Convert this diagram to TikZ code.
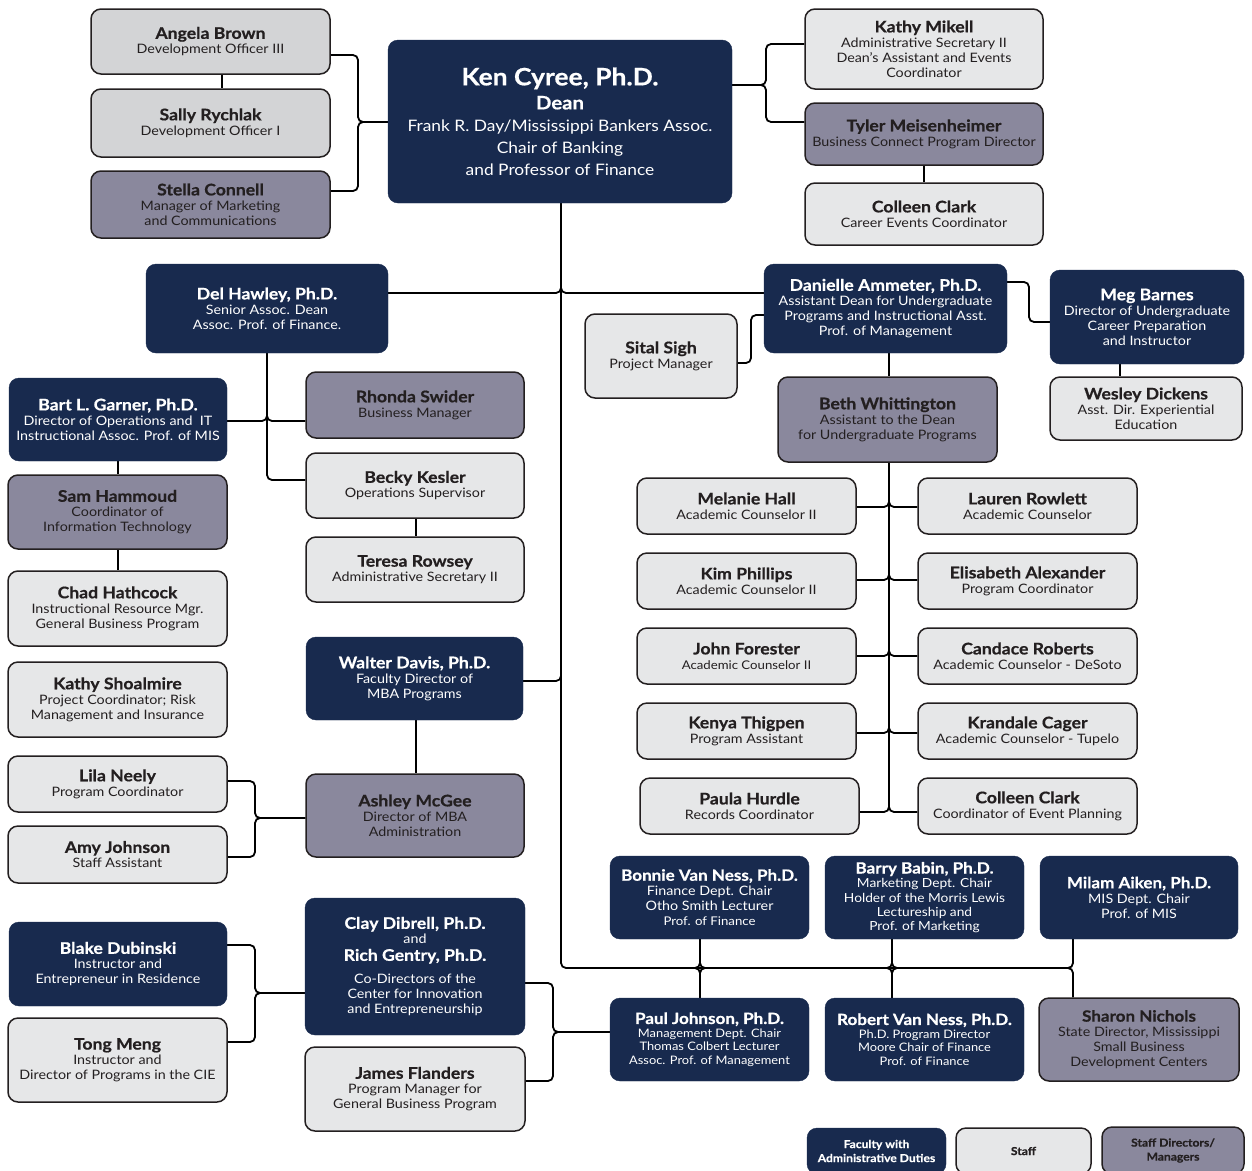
\documentclass[tikz,border=0pt]{standalone}
\usepackage{fontspec}
\setmainfont{Lato}[FakeStretch=1.1, BoldFeatures={FakeBold=0.6}]
\usetikzlibrary{backgrounds}
\definecolor{navy}{HTML}{182A4E}
\definecolor{stfgray}{HTML}{E6E7E8}
\definecolor{devgray}{HTML}{D3D4D6}
\definecolor{mgrgray}{HTML}{8A889D}
\definecolor{ink}{HTML}{231F20}
\newcommand\nm[1]{{\fontsize{16}{18}\selectfont\bfseries #1}}
\newcommand\nms[1]{{\fontsize{15.5}{17}\selectfont\bfseries #1}}
\newcommand\bx[7]{\node[#1, minimum width={#5-#3}, minimum height={#6-#4}] (#2) at ({(#3+#5)/2},{(#4+#6)/2}) {#7};}
\tikzset{
  card/.style={rounded corners=10pt, inner sep=0pt, align=center, font=\fontsize{13}{15}\selectfont},
  fac/.style={card, fill=navy, draw=navy, text=white},
  stf/.style={card, fill=stfgray, draw=ink, line width=1.5pt, text=ink},
  dev/.style={card, fill=devgray, draw=ink, line width=1.5pt, text=ink},
  mgr/.style={card, fill=mgrgray, draw=ink, line width=1.5pt, text=ink},
  conn/.style={draw=black, line width=1.8pt, rounded corners=5pt},
}
\begin{document}
\begin{tikzpicture}[x=1pt,y=-1pt]
\useasboundingbox (0,0) rectangle (1252,1170);
% top left
\bx{dev}{angela}{91}{9}{330}{74}{\nm{Angela Brown}\\Development Officer III}
\bx{dev}{sally}{91}{89}{330}{157}{\nm{Sally Rychlak}\\Development Officer I}
\bx{mgr}{stella}{91}{171}{330}{238}{\nm{Stella Connell}\\Manager of Marketing\\and Communications}
% dean
\bx{fac,font=\fontsize{15.8}{22}\selectfont}{ken}{388}{40}{732}{203}{{\fontsize{24}{26}\selectfont\bfseries Ken Cyree, Ph.D.}\\[2pt]{\fontsize{18.5}{20}\selectfont\bfseries Dean}\\[0pt]Frank R. Day/Mississippi Bankers Assoc.\\Chair of Banking\\and Professor of Finance}
% top right
\bx{stf}{kathy}{805}{9}{1043}{89}{\nm{Kathy Mikell}\\Administrative Secretary II\\Dean’s Assistant and Events\\Coordinator}
\bx{mgr}{tyler}{805}{103}{1043}{165}{\nm{Tyler Meisenheimer}\\Business Connect Program Director}
\bx{stf}{colleenA}{805}{183}{1043}{245}{\nm{Colleen Clark}\\Career Events Coordinator}
% second level
\bx{fac}{delh}{146}{264}{388}{353}{\nm{Del Hawley, Ph.D.}\\Senior Assoc. Dean\\Assoc. Prof. of Finance.}
\bx{fac}{dan}{764}{264}{1007}{353}{\nm{Danielle Ammeter, Ph.D.}\\Assistant Dean for Undergraduate\\Programs and Instructional Asst.\\Prof. of Management}
\bx{stf}{sital}{585}{314}{737}{398}{\nm{Sital Sigh}\\Project Manager}
\bx{fac}{meg}{1050}{270}{1244}{364}{\nm{Meg Barnes}\\Director of Undergraduate\\Career Preparation\\and Instructor}
\bx{stf}{wesley}{1050}{377}{1242}{440}{\nm{Wesley Dickens}\\Asst. Dir. Experiential\\Education}
\bx{mgr}{beth}{778}{377}{997}{462}{\nm{Beth Whittington}\\Assistant to the Dean\\for Undergraduate Programs}
% Del Hawley branch
\bx{fac}{bart}{9}{378}{227}{461}{\nm{Bart L. Garner, Ph.D.}\\Director of Operations and\ \ IT\\Instructional Assoc. Prof. of MIS}
\bx{mgr}{sam}{8}{475}{227}{549}{\nm{Sam Hammoud}\\Coordinator of\\Information Technology}
\bx{stf}{chad}{8}{571}{227}{646}{\nm{Chad Hathcock}\\Instructional Resource Mgr.\\General Business Program}
\bx{mgr}{rhonda}{306}{372}{524}{438}{\nm{Rhonda Swider}\\Business Manager}
\bx{stf}{becky}{306}{453}{524}{518}{\nm{Becky Kesler}\\Operations Supervisor}
\bx{stf}{teresa}{306}{537}{524}{602}{\nm{Teresa Rowsey}\\Administrative Secretary II}
\bx{stf}{kathys}{8}{662}{227}{737}{\nm{Kathy Shoalmire}\\Project Coordinator; Risk\\Management and Insurance}
% MBA
\bx{fac}{walter}{306}{637}{523}{720}{\nm{Walter Davis, Ph.D.}\\Faculty Director of\\MBA Programs}
\bx{stf}{lila}{8}{756}{227}{812}{\nm{Lila Neely}\\Program Coordinator}
\bx{stf}{amy}{8}{826}{227}{883}{\nm{Amy Johnson}\\Staff Assistant}
\bx{mgr}{ashley}{306}{774}{524}{857}{\nm{Ashley McGee}\\Director of MBA\\Administration}
% CIE
\bx{fac}{blake}{9}{922}{227}{1006}{\nm{Blake Dubinski}\\Instructor and\\Entrepreneur in Residence}
\bx{stf}{tong}{8}{1018}{227}{1102}{\nm{Tong Meng}\\Instructor and\\Director of Programs in the CIE}
\bx{fac}{clay}{305}{898}{525}{1035}{\nm{Clay Dibrell, Ph.D.}\\and\\[2pt]\nm{Rich Gentry, Ph.D.}\\[8pt]Co-Directors of the\\Center for Innovation\\and Entrepreneurship}
\bx{stf}{james}{305}{1047}{525}{1131}{\nm{James Flanders}\\Program Manager for\\General Business Program}
% counselors
\bx{stf}{melanie}{637}{478}{856}{534}{\nm{Melanie Hall}\\Academic Counselor II}
\bx{stf}{lauren}{918}{478}{1137}{534}{\nm{Lauren Rowlett}\\Academic Counselor}
\bx{stf}{kim}{637}{553}{856}{609}{\nm{Kim Phillips}\\Academic Counselor II}
\bx{stf}{elisabeth}{918}{553}{1137}{609}{\nm{Elisabeth Alexander}\\Program Coordinator}
\bx{stf}{john}{637}{628}{856}{684}{\nm{John Forester}\\{\fontsize{12}{14}\selectfont Academic Counselor II}}
\bx{stf}{candace}{918}{628}{1137}{684}{\nm{Candace Roberts}\\Academic Counselor - DeSoto}
\bx{stf}{kenya}{637}{703}{856}{759}{\nm{Kenya Thigpen}\\Program Assistant}
\bx{stf}{krandale}{918}{703}{1137}{759}{\nm{Krandale Cager}\\Academic Counselor - Tupelo}
\bx{stf}{paula}{640}{778}{859}{834}{\nm{Paula Hurdle}\\Records Coordinator}
\bx{stf}{colleenB}{918}{778}{1137}{834}{\nm{Colleen Clark}\\Coordinator of Event Planning}
% departments
\bx{fac}{bonnie}{610}{856}{809}{939}{\nms{Bonnie Van Ness, Ph.D.}\\Finance Dept. Chair\\Otho Smith Lecturer\\{\fontsize{12}{14}\selectfont Prof. of Finance}}
\bx{fac,font=\fontsize{12.5}{14.3}\selectfont}{barry}{825}{856}{1024}{939}{\nms{Barry Babin, Ph.D.}\\Marketing Dept. Chair\\Holder of the Morris Lewis\\Lectureship and\\Prof. of Marketing}
\bx{fac}{milam}{1040}{856}{1238}{939}{\nms{Milam Aiken, Ph.D.}\\MIS Dept. Chair\\Prof. of MIS}
\bx{fac,font=\fontsize{11.7}{13.5}\selectfont}{paul}{610}{998}{809}{1081}{\nms{Paul Johnson, Ph.D.}\\Management Dept. Chair\\Thomas Colbert Lecturer\\Assoc. Prof. of Management}
\bx{fac,font=\fontsize{11.7}{13.5}\selectfont}{robert}{825}{998}{1024}{1081}{\nms{Robert Van Ness, Ph.D.}\\Ph.D. Program Director\\Moore Chair of Finance\\Prof. of Finance}
\bx{mgr}{sharon}{1039}{998}{1239}{1081}{\nms{Sharon Nichols}\\State Director, Mississippi\\Small Business\\Development Centers}
% legend
\begin{scope}
\clip (0,0) rectangle (1252,1170);
\bx{fac,font=\fontsize{11}{14}\selectfont\bfseries}{lgfac}{807}{1128}{946}{1174}{Faculty with\\Administrative Duties}
\bx{stf,font=\fontsize{11}{14}\selectfont\bfseries}{lgstf}{956}{1128}{1091}{1174}{Staff}
\bx{mgr,font=\fontsize{11}{14}\selectfont\bfseries}{lgmgr}{1102}{1127}{1244}{1174}{Staff Directors/\\Managers}
\end{scope}
% connectors
\begin{scope}[on background layer]
% dean left
\draw[conn] (angela.east |- 0,55) -| (358,122) -- (ken.west |- 0,122);
\draw[conn] (stella.east |- 0,191) -| (358,122) -- (ken.west |- 0,122);
\draw[conn] (angela.south -| 222,0) -- (sally.north -| 222,0);
% dean right
\draw[conn] (ken.east |- 0,85) -| (766,44) -- (kathy.west |- 0,44);
\draw[conn] (ken.east |- 0,85) -| (766,122) -- (tyler.west |- 0,122);
\draw[conn] (tyler.south -| 924,0) -- (colleenA.north -| 924,0);
% trunk
\draw[conn] (ken.south -| 561,0) |- (1060,968);
\draw[conn] (delh.east |- 0,293) -| (561,270);
\draw[conn] (dan.west |- 0,293) -| (561,270);
\draw[conn] (walter.east |- 0,681) -| (561,660);
% bus drops
\draw[conn] (bonnie.south -| 700,0) |- (680,968);
\draw[conn] (bonnie.south -| 700,0) |- (720,968);
\draw[conn] (paul.north -| 700,0) |- (680,968);
\draw[conn] (paul.north -| 700,0) |- (720,968);
\draw[conn] (barry.south -| 892,0) |- (872,968);
\draw[conn] (barry.south -| 892,0) |- (912,968);
\draw[conn] (robert.north -| 892,0) |- (872,968);
\draw[conn] (robert.north -| 892,0) |- (912,968);
\draw[conn] (milam.south -| 1073,0) |- (1050,968);
\draw[conn] (sharon.north -| 1073,0) |- (1050,968);
% Del Hawley branch
\draw[conn] (delh.south -| 267,0) |- (becky.west |- 0,480);
\draw[conn] (bart.east |- 0,421) -| (267,400);
\draw[conn] (rhonda.west |- 0,421) -| (267,400);
\draw[conn] (bart.south -| 118,0) -- (sam.north -| 118,0);
\draw[conn] (sam.south -| 118,0) -- (chad.north -| 118,0);
\draw[conn] (becky.south -| 416,0) -- (teresa.north -| 416,0);
% Danielle branch
\draw[conn] (sital.east |- 0,363) -| (751,315) -- (dan.west |- 0,315);
\draw[conn] (dan.east |- 0,282) -| (1029,322) -- (meg.west |- 0,322);
\draw[conn] (dan.south -| 889,0) -- (beth.north -| 889,0);
\draw[conn] (meg.south -| 1120,0) -- (wesley.north -| 1120,0);
% counselors
\draw[conn] (beth.south -| 889,0) -- (889,795);
\draw[conn] (melanie.east |- 0,507) -| (889,490);
\draw[conn] (lauren.west |- 0,507) -| (889,490);
\draw[conn] (kim.east |- 0,580) -| (889,565);
\draw[conn] (elisabeth.west |- 0,580) -| (889,565);
\draw[conn] (john.east |- 0,656) -| (889,640);
\draw[conn] (candace.west |- 0,656) -| (889,640);
\draw[conn] (kenya.east |- 0,733) -| (889,715);
\draw[conn] (krandale.west |- 0,733) -| (889,715);
\draw[conn] (paula.east |- 0,812) -| (889,790);
\draw[conn] (colleenB.west |- 0,812) -| (889,790);
% MBA
\draw[conn] (walter.south -| 416,0) -- (ashley.north -| 416,0);
\draw[conn] (lila.east |- 0,781) -| (255,818) -- (ashley.west |- 0,818);
\draw[conn] (amy.east |- 0,857) -| (255,818) -- (ashley.west |- 0,818);
% CIE
\draw[conn] (blake.east |- 0,945) -| (255,993) -- (clay.west |- 0,993);
\draw[conn] (tong.east |- 0,1042) -| (255,993) -- (clay.west |- 0,993);
\draw[conn] (clay.east |- 0,983) -| (553,1032) -- (paul.west |- 0,1032);
\draw[conn] (james.east |- 0,1081) -| (553,1032) -- (paul.west |- 0,1032);
\end{scope}
\end{tikzpicture}
\end{document}
